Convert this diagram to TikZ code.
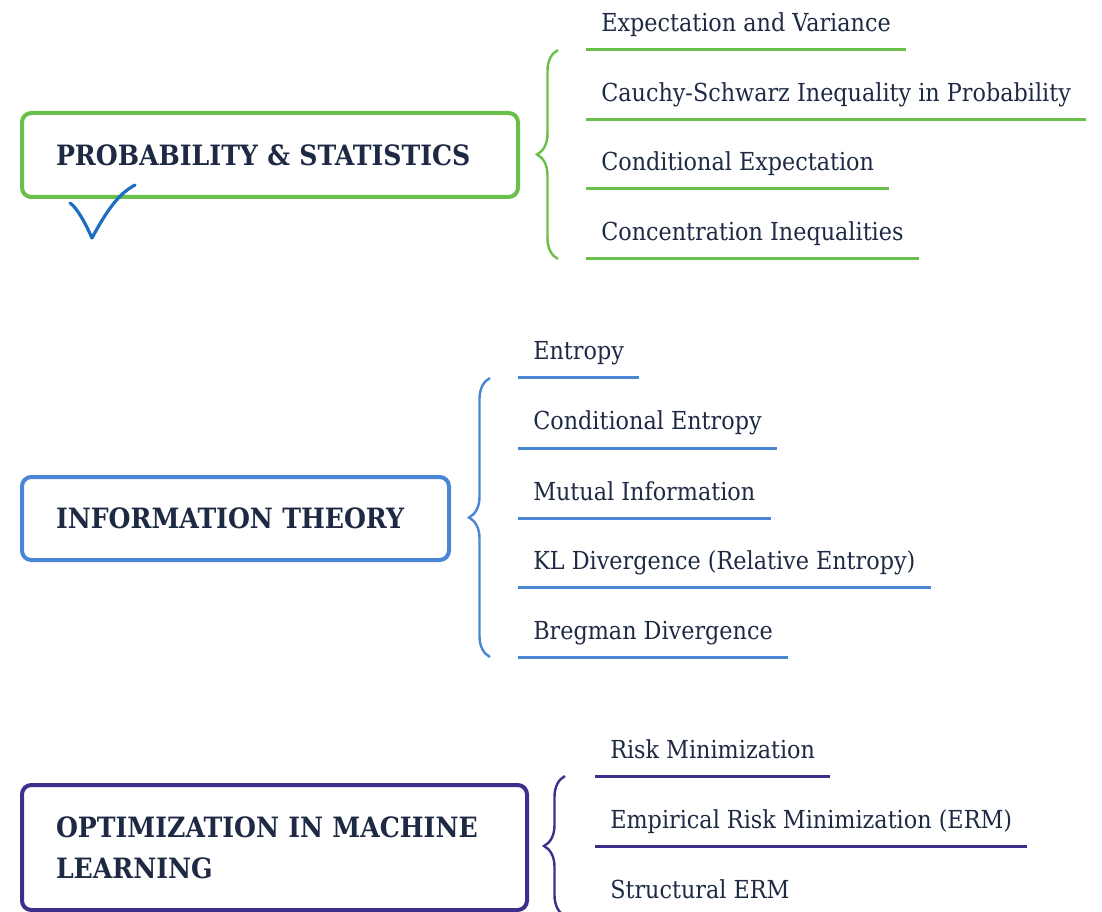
\documentclass[tikz,border=0pt]{standalone}
\usepackage{fontspec}
\setmainfont{DejaVu Serif Condensed}
\usepackage{xcolor}
\usetikzlibrary{positioning,calc,decorations.pathreplacing}
\definecolor{probgreen}{HTML}{6ABF4B}
\definecolor{infoblue}{HTML}{4A86D4}
\definecolor{optpurple}{HTML}{3F2F8C}
\definecolor{inkblue}{HTML}{1E2A44}
\definecolor{tickblue}{HTML}{1C6FBF}

\begin{document}
\begin{tikzpicture}[
        x=0.75pt, y=-0.75pt,
        topic/.style={rectangle, rounded corners=7pt, draw, line width=3pt, anchor=west, inner xsep=25.5pt, align=left, text=inkblue, font=\fontsize{21}{30.75}\selectfont\bfseries},
        item/.style={anchor=base west, inner xsep=11.25pt, inner ysep=0pt, text=inkblue, font=\fontsize{18.6}{22}\selectfont},
        rule/.style={line width=2.25pt},
        curly/.style={line width=1.8pt, decorate, decoration={brace, amplitude=15.75pt}},
        checkmark/.style={tickblue, line width=2.4pt, line cap=round, line join=round}
    ]
    \useasboundingbox (0,0) rectangle (1102,912);

    \node[topic, draw=probgreen, minimum width=372pt, minimum height=63pt, text width=321pt] (prob) at (20,155) {PROBABILITY \& STATISTICS};
    \node[topic, draw=infoblue, minimum width=320.25pt, minimum height=62.25pt, text width=269.25pt] (info) at (20,518.5) {INFORMATION THEORY};
    \node[topic, draw=optpurple, minimum width=378.75pt, minimum height=93.75pt, text width=327.75pt] (opt) at (20,847.5) {OPTIMIZATION IN MACHINE\\LEARNING};

    \node[item] (ev) at (586,32) {Expectation and Variance};
    \node[item] (cs) at (586,102) {Cauchy-Schwarz Inequality in Probability};
    \node[item] (ce) at (586,171) {Conditional Expectation};
    \node[item] (ci) at (586,241) {Concentration Inequalities};

    \node[item] (ent) at (518,360) {Entropy};
    \node[item] (cent) at (518,430) {Conditional Entropy};
    \node[item] (mi) at (518,500) {Mutual Information};
    \node[item] (kl) at (518,569) {KL Divergence (Relative Entropy)};
    \node[item] (breg) at (518,639) {Bregman Divergence};

    \node[item] (rm) at (595,758) {Risk Minimization};
    \node[item] (erm) at (595,828) {Empirical Risk Minimization (ERM)};
    \node[item] (serm) at (595,898) {Structural ERM};

    \foreach \n in {ev,cs,ce,ci}
        \draw[rule, probgreen] ($(\n.base west)+(0,18)$) -- ($(\n.base east)+(0,18)$);
    \foreach \n in {ent,cent,mi,kl,breg}
        \draw[rule, infoblue] ($(\n.base west)+(0,18)$) -- ($(\n.base east)+(0,18)$);
    \foreach \n in {rm,erm}
        \draw[rule, optpurple] ($(\n.base west)+(0,18)$) -- ($(\n.base east)+(0,18)$);

    \draw[curly, probgreen] ($(ci.base west)+(-28,18)$) -- ($(ev.base west)+(-28,18)$);
    \draw[curly, infoblue] ($(breg.base west)+(-28,18)$) -- ($(ent.base west)+(-28,18)$);
    \draw[curly, optpurple] ($(serm.base west)+(-30,18)$) -- ($(rm.base west)+(-30,18)$);

    \draw[checkmark] (70,203) .. controls (76,207) and (84,220) .. (92,238) .. controls (106,212) and (118,194) .. (135,185);
\end{tikzpicture}
\end{document}
